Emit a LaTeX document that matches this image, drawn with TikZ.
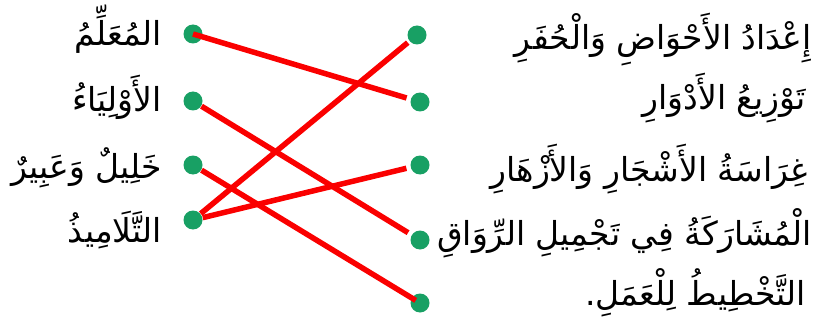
\documentclass[tikz,border=0pt]{standalone}
\usepackage{fontspec}
\TeXXeTstate=1
\newfontfamily\arabicfont[Script=Arabic]{DejaVu Sans}
\definecolor{dotgreen}{RGB}{24,160,100}
\definecolor{linered}{RGB}{250,0,0}
\tikzset{
  x=1pt, y=-1pt,
  dotnode/.style={circle, fill=dotgreen, minimum size=19pt, inner sep=0pt},
  label/.style={anchor=base east, inner sep=0pt, font=\arabicfont\fontsize{33}{36}\selectfont},
  redline/.style={draw=linered, line width=5.5pt},
}
\begin{document}
\begin{tikzpicture}
\useasboundingbox (0,0) rectangle (832,334);
% left labels
\node[label] (t1) at (162,46) {\beginR المُعَلِّمُ\endR};
\node[label] (t2) at (162,112) {\beginR الأَوْلِيَاءُ\endR};
\node[label] (t3) at (162,178) {\beginR خَلِيلٌ وَعَبِيرٌ\endR};
\node[label] (t4) at (162,242) {\beginR التَّلَامِيذُ\endR};
% right labels
\node[label] (s1) at (812,50) {\beginR إِعْدَادُ الأَحْوَاضِ وَالْحُفَرِ\endR};
\node[label] (s2) at (806,110) {\beginR تَوْزِيعُ الأَدْوَارِ\endR};
\node[label] (s3) at (808,181) {\beginR غِرَاسَةُ الأَشْجَارِ وَالأَزْهَارِ\endR};
\node[label] (s4) at (812,245) {\beginR الْمُشَارَكَةُ فِي تَجْمِيلِ الرِّوَاقِ\endR};
\node[label] (s5) at (806,305) {\beginR التَّخْطِيطُ لِلْعَمَلِ.\endR};
% lines
\coordinate (a1) at (193,34);
\coordinate (a2) at (193,101);
\coordinate (a3) at (193,165);
\coordinate (a4) at (193,220);
\coordinate (b1) at (417,35);
\coordinate (b2) at (420,102);
\coordinate (b3) at (420,165);
\coordinate (b4) at (420,240);
\coordinate (b5) at (420,303);
% dots
\foreach \p in {a1,a2,a3,a4,b1,b2,b3,b4,b5} {\node[dotnode] (d\p) at (\p) {};}
\draw[redline, shorten >=14pt] (a1) -- (b2);
\draw[redline, shorten <=10pt, shorten >=14pt] (a2) -- (b4);
\draw[redline, shorten <=10pt, shorten >=5pt] (a3) -- (b5);
\draw[redline, shorten <=10pt, shorten >=12pt] (a4) -- (b1);
\draw[redline, shorten <=10pt, shorten >=14pt] (a4) -- (b3);
\end{tikzpicture}
\end{document}
